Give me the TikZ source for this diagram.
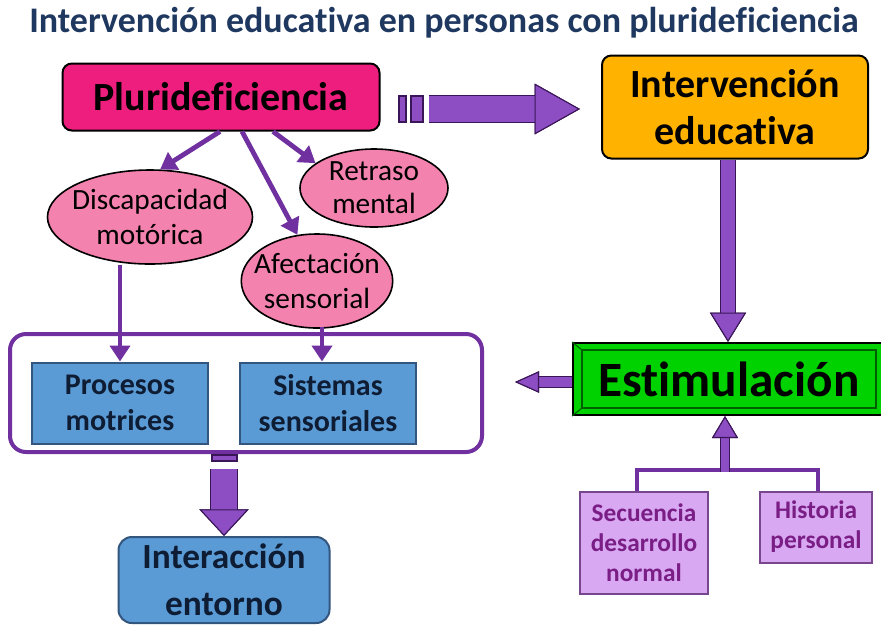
\documentclass[tikz,border=0pt]{standalone}
\usepackage{fontspec}
\setmainfont{Carlito}[Ligatures=NoCommon]
\usetikzlibrary{positioning,calc,arrows.meta,shapes.geometric}

\definecolor{titulo}{RGB}{31,56,96}
\definecolor{rosafuerte}{RGB}{238,30,126}
\definecolor{naranja}{RGB}{255,178,0}
\definecolor{verde}{RGB}{0,210,0}
\definecolor{rosa}{RGB}{243,130,174}
\definecolor{azul}{RGB}{91,155,213}
\definecolor{azulborde}{RGB}{50,86,126}
\definecolor{azultexto}{RGB}{14,28,52}
\definecolor{lila}{RGB}{216,168,242}
\definecolor{lilaborde}{RGB}{120,70,140}
\definecolor{lilatexto}{RGB}{122,30,134}
\definecolor{morado}{RGB}{112,48,160}
\definecolor{flecha}{RGB}{141,78,196}
\definecolor{borde}{RGB}{58,22,88}

\tikzset{every picture/.style={line width=0.75pt}}
\tikzset{
  caja/.style={draw=black, line width=1.5pt, rounded corners=7pt, align=center, inner sep=0pt},
  elipse/.style={ellipse, draw=black, line width=1.2pt, fill=rosa, align=center, inner ysep=0pt,
    inner xsep=-7pt, font=\fontsize{22}{26}\selectfont},
  azulcaja/.style={draw=azulborde, line width=1.5pt, fill=azul, align=center, inner sep=0pt,
    text=azultexto, font=\bfseries\fontsize{22.5}{27}\selectfont},
  lilacaja/.style={draw=lilaborde, line width=1.5pt, fill=lila, align=center, inner sep=0pt,
    text=lilatexto, font=\bfseries\fontsize{19}{22.5}\selectfont},
  fina/.style={draw=morado, line width=3.6pt, -{Triangle[length=12pt,width=15pt,fill=morado,color=morado]}},
  rama/.style={draw=morado, line width=3.6pt},
  gruesa/.style n args={3}{draw=flecha, line width=#1,
    -{Triangle[length=#2,width=#3,fill=flecha,color=borde,line width=0.8pt]},
    preaction={draw=borde, line width=#1+1.6pt}},
  raya/.style={fill=flecha, draw=borde, line width=0.8pt},
}

\begin{document}
\begin{tikzpicture}[x=0.75pt,y=0.75pt,yscale=-1,xscale=1]
\useasboundingbox (0,0) rectangle (881,626);

% Title
\node (titulo) at (444,23) {\color{titulo}\bfseries\fontsize{27}{29}\selectfont Intervención educativa en personas con plurideficiencia};

%Shape: main boxes
\node[caja, fill=rosafuerte, minimum width=237.75pt, minimum height=50.25pt,
  font=\bfseries\fontsize{30}{32}\selectfont] (plur) at (221,97) {Plurideficiencia};
\node[caja, fill=naranja, minimum width=199.5pt, minimum height=77.25pt,
  font=\bfseries\fontsize{30}{35}\selectfont] (interv) at (735,107) {Intervención\\educativa};
\node[draw=black, line width=1.5pt, fill=verde, minimum width=234pt, minimum height=54pt, inner sep=0pt,
  font=\bfseries\fontsize{37}{39}\selectfont] (esti) at (729,379) {Estimulación};
% bevel of the green box
\draw[black!55!verde, line width=0.8pt] ($(esti.north west)+(10,8)$) rectangle ($(esti.south east)+(-10,-8)$);
\draw[black!55!verde, line width=0.8pt] (esti.north west) -- ($(esti.north west)+(10,8)$)
  (esti.south west) -- ($(esti.south west)+(10,-8)$);

%Shape: ellipses
\node[elipse, minimum width=153.75pt, minimum height=70.5pt] (disc) at (150,217) {Discapacidad\\motórica};
\node[elipse, minimum width=111pt, minimum height=58.5pt, font=\fontsize{22}{25}\selectfont] (retr) at (374,188) {Retraso\\mental};
\node[elipse, minimum width=112.5pt, minimum height=70.5pt] (afec) at (317,281) {Afectación\\sensorial};

%Shape: frame
\node[draw=morado, line width=3pt, rounded corners=12pt, minimum width=354pt, minimum height=88.5pt] (marco) at (246,393) {};

%Shape: blue boxes
\node[azulcaja, minimum width=132pt, minimum height=60.75pt] (proc) at (120,403) {Procesos\\motrices};
\node[azulcaja, minimum width=132pt, minimum height=60.75pt] (sist) at (328,403) {Sistemas\\sensoriales};
\node[azulcaja, rounded corners=10pt, minimum width=158.25pt, minimum height=64.5pt,
  font=\bfseries\fontsize{26.5}{35}\selectfont] (inter) at (224,580) {Interacción\\entorno};

%Shape: lilac boxes
\node[lilacaja, minimum width=96pt, minimum height=76.5pt] (secu) at (644,543) {Secuencia\\desarrollo\\normal};
\node[lilacaja, minimum width=84pt, minimum height=53.25pt] (hist) at (816,527) {Historia\\personal};

%Straight Lines: thin arrows
\draw[fina] ($(plur.south)+(-1,0)$) -- (disc.78);
\draw[fina] ($(plur.south)+(21,0)$) -- (afec.113);
\draw[fina] ($(plur.south)+(52,0)$) -- (retr.157);
\draw[fina] (proc.north |- disc.south) -- (proc.north);
\draw[fina] ($(sist.north |- afec.south)+(-6,-2)$) -- ($(sist.north)+(-6,0)$);

%Straight Lines: block arrows
\draw[raya] (399,96) rectangle (406,122);
\draw[raya] (411,96) rectangle (423,122);
\draw[gruesa={19.5pt}{34pt}{38pt}] ($(plur.east |- interv.west)+(48,2)$) -- ($(interv.west)+(-21,2)$);
\draw[gruesa={10.5pt}{22pt}{27pt}] ($(interv.south)+(-7,0)$) -- ($(interv.south |- esti.north)+(-7,0)$);
\coordinate (izq) at (515,382);
\draw[gruesa={7.5pt}{18pt}{16pt}] ($(esti.west)+(0,3)$) -- (izq);
\draw[raya] (212,455) rectangle (237,461);
\draw[gruesa={19pt}{20pt}{37pt}] ($(inter.north |- marco.south)+(0,15)$) -- (inter.north);

%Straight Lines: tree under Estimulacion
\coordinate (junta) at (725,470);
\draw[rama] ($(secu.north)+(-7,0)$) |- (junta) -| ($(hist.north)+(2,0)$);
\draw[gruesa={6pt}{16.5pt}{19.5pt}] ($(junta)+(0,2)$) -- (junta |- esti.south);

\end{tikzpicture}
\end{document}
